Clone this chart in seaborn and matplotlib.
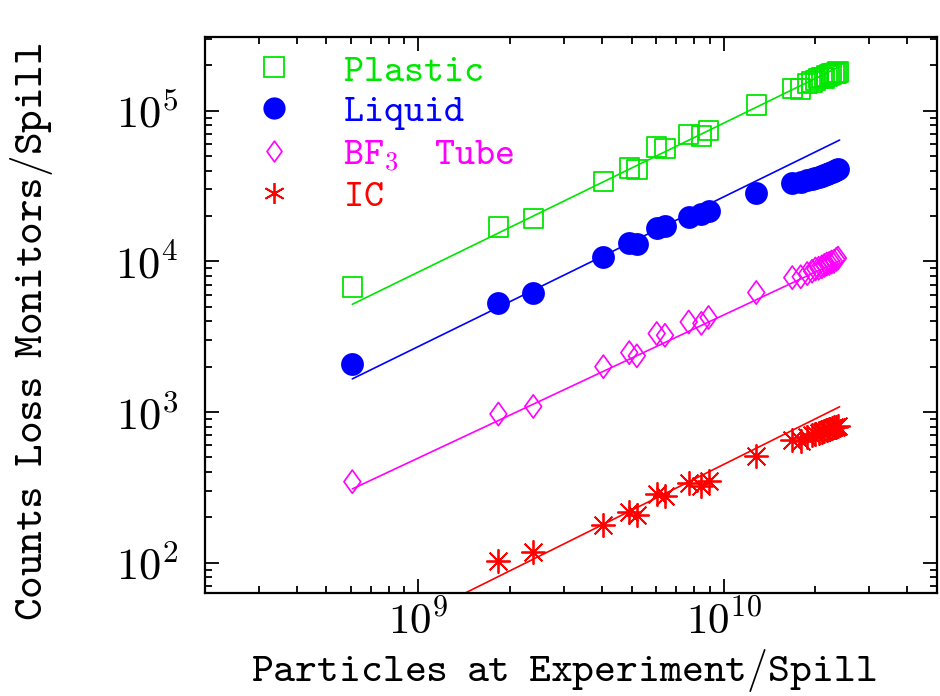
import numpy as np
import matplotlib
matplotlib.use("Agg")
import matplotlib.pyplot as plt
import seaborn as sns
from matplotlib.path import Path
from matplotlib.lines import Line2D
from matplotlib.ticker import LogLocator, NullFormatter

# ---------------- data ----------------
particles = [6.08e8, 1.83e9, 2.38e9, 4.04e9, 4.91e9, 5.20e9, 6.04e9, 6.43e9,
             7.69e9, 8.46e9, 8.93e9, 1.28e10, 1.68e10, 1.79e10, 1.88e10,
             1.95e10, 2.00e10, 2.05e10, 2.10e10, 2.14e10, 2.18e10, 2.22e10,
             2.26e10, 2.30e10, 2.34e10, 2.37e10]
plastic = [6760, 1.69e4, 1.93e4, 3.40e4, 4.17e4, 4.06e4, 5.75e4, 5.60e4,
           6.94e4, 6.80e4, 7.41e4, 1.09e5, 1.40e5, 1.39e5, 1.52e5,
           1.55e5, 1.58e5, 1.63e5, 1.66e5, 1.65e5, 1.70e5, 1.72e5,
           1.75e5, 1.76e5, 1.78e5, 1.80e5]
liquid = [2080, 5320, 6210, 1.07e4, 1.33e4, 1.30e4, 1.66e4, 1.71e4,
          1.98e4, 2.05e4, 2.15e4, 2.85e4, 3.29e4, 3.35e4, 3.45e4,
          3.50e4, 3.58e4, 3.62e4, 3.70e4, 3.75e4, 3.80e4, 3.85e4,
          3.90e4, 3.98e4, 4.05e4, 4.10e4]
bf3 = [345, 970, 1090, 2000, 2480, 2360, 3320, 3230,
       3960, 3880, 4240, 6210, 7800, 7900, 8300,
       8600, 8900, 9000, 9200, 9400, 9600, 9700,
       9900, 10000, 10300, 10500]
ic = [np.nan, 102, 118, 179, 217, 208, 287, 279,
      339, 325, 351, 514, 650, 640, 680,
      700, 710, 730, 740, 750, 760, 770,
      780, 790, 800, 810]

fit_x = [6.08e8, 2.40e10]
fit_plastic = [5190, 1.96e5]
fit_liquid = [1660, 6.38e4]
fit_bf3 = [309, 1.01e4]
fit_ic = [26.7, 1084]

series_names = [r"$\mathtt{Plastic}$", r"$\mathtt{Liquid}$",
                r"$\mathtt{BF_{3}\enspace\enspace Tube}$", r"$\mathtt{IC}$"]
x_ticks = [1e9, 1e10]
x_ticklabels = [r"$10^{9}$", r"$10^{10}$"]
y_ticks = [1e2, 1e3, 1e4, 1e5]
y_ticklabels = [r"$10^{2}$", r"$10^{3}$", r"$10^{4}$", r"$10^{5}$"]
x_label = r"$\mathtt{Particles\enspace at\enspace Experiment/Spill}$"
y_label = r"$\mathtt{Counts\enspace Loss\enspace Monitors/Spill}$"

# ---------------- style ----------------
sns.set_theme(style="ticks")
plt.rcParams["font.family"] = ["DejaVu Serif", "DejaVu Sans"]
plt.rcParams["mathtext.fontset"] = "cm"

GREEN = "#00e600"
BLUE = "#0000ff"
MAGENTA = "#ff00ff"
RED = "#ff0000"

diamond = Path([(0, 1), (0.72, 0), (0, -1), (-0.72, 0), (0, 1)],
               [Path.MOVETO, Path.LINETO, Path.LINETO, Path.LINETO, Path.CLOSEPOLY])
asterisk = (8, 2, 0)

fig = plt.figure(figsize=(9.4, 6.96), dpi=100)
ax = fig.add_axes([0.218, 0.148, 0.7787, 0.7988])
ax.set_xscale("log")
ax.set_yscale("log")

# fit lines
for fy, c in [(fit_plastic, GREEN), (fit_liquid, BLUE), (fit_bf3, MAGENTA), (fit_ic, RED)]:
    sns.lineplot(x=fit_x, y=fy, ax=ax, color=c, linewidth=1.2, zorder=2)

# data points
sns.scatterplot(x=particles, y=plastic, ax=ax, marker="s", s=196, color=GREEN,
                facecolor="none", edgecolor=GREEN, linewidth=1.3, zorder=3)
sns.scatterplot(x=particles, y=liquid, ax=ax, marker="o", s=270, color=BLUE,
                edgecolor=BLUE, linewidth=0, zorder=3)
sns.scatterplot(x=particles, y=bf3, ax=ax, marker=diamond, s=280, color=MAGENTA,
                facecolor="none", edgecolor=MAGENTA, linewidth=1.2, zorder=3)
sns.scatterplot(x=particles, y=ic, ax=ax, marker=asterisk, s=280, color=RED,
                linewidth=1.3, zorder=3)

ax.set_xlim(2e8, 5e10)
ax.set_ylim(63, 3.08e5)

# ticks
ax.set_xticks(x_ticks)
ax.set_xticklabels(x_ticklabels)
ax.set_yticks(y_ticks)
ax.set_yticklabels(y_ticklabels)
for axis in (ax.xaxis, ax.yaxis):
    axis.set_minor_locator(LogLocator(base=10, subs=np.arange(2, 10), numticks=100))
    axis.set_minor_formatter(NullFormatter())
ax.tick_params(which="both", direction="in", top=True, right=True,
               colors="black", width=1.3)
ax.tick_params(which="major", length=10, labelsize=32)
ax.tick_params(axis="x", which="major", labelsize=31, pad=6)
ax.tick_params(which="minor", length=5)
ax.tick_params(axis="y", which="major", pad=19)
for sp in ax.spines.values():
    sp.set_linewidth(1.6)
    sp.set_color("black")

ax.set_xlabel(x_label, fontsize=30, color="black")
ax.set_ylabel(y_label, fontsize=31, color="black")
ax.xaxis.set_label_coords(0.49, -0.098)
ax.yaxis.set_label_coords(-0.205, 0.47)

# legend
handles = [
    Line2D([], [], ls="none", marker="s", ms=15, mfc="none", mec=GREEN, mew=1.3),
    Line2D([], [], ls="none", marker="o", ms=16, mfc=BLUE, mec=BLUE, mew=0),
    Line2D([], [], ls="none", marker=diamond, ms=15, mfc="none", mec=MAGENTA, mew=1.2),
    Line2D([], [], ls="none", marker=(6, 2, 0), ms=15, mfc=RED, mec=RED, mew=1.3),
]
ax.legend(handles, series_names, loc="upper left", bbox_to_anchor=(0.068, 0.972),
          frameon=False, prop={"size": 27.5},
          handlelength=1.0, handletextpad=1.3, labelspacing=0.12, borderpad=0,
          borderaxespad=0, labelcolor=[GREEN, BLUE, MAGENTA, RED])

fig.savefig("out.png", dpi=100)
